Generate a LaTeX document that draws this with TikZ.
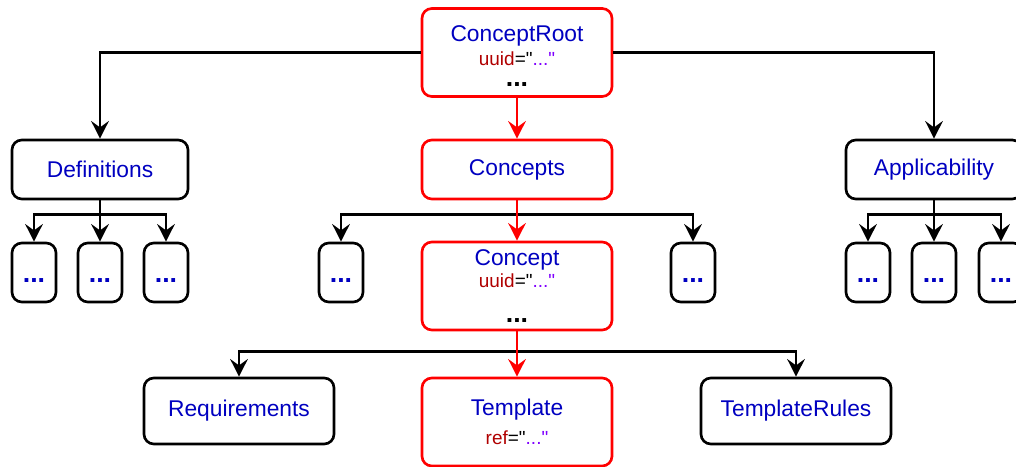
\documentclass[tikz,border=0pt]{standalone}
\usepackage{fontspec}
\newfontfamily\diagfont{Liberation Sans}
\usetikzlibrary{arrows.meta}
\definecolor{nameblue}{HTML}{0000C0}
\definecolor{keyred}{HTML}{B00000}
\definecolor{valpurple}{HTML}{7F00FF}
\definecolor{hotred}{HTML}{FF0000}
\newcommand{\bigfs}{\diagfont\fontsize{16.2}{19}\selectfont}
\newcommand{\smallfs}{\diagfont\fontsize{13.5}{16}\selectfont}
\newcommand{\attr}[1]{{\smallfs\color{keyred}#1\color{black}="\color{valpurple}..."}}
\newcommand{\more}{{\diagfont\fontsize{19}{20}\selectfont\textbf{...}}}
\newcommand{\lowmore}{\raisebox{-7pt}[0pt][0pt]{\more}}

\begin{document}
\begin{tikzpicture}[>={Stealth[length=12.5pt,width=12.5pt,inset=4.5pt]}]
  \tikzset{
    box/.style={draw,line width=1.9pt,rounded corners=7pt,align=center,text=nameblue,
      font=\bigfs,minimum width=4.75cm,minimum height=1.475cm,inner sep=0pt},
    hot/.style={box,draw=hotred,minimum height=2.2cm},
    dotbox/.style={box,minimum width=1.1cm},
    link/.style={->,line width=1.9pt},
    hotlink/.style={link,draw=hotred}
  }
  \useasboundingbox (0,0) rectangle (25.4,-11.675);

  % top level
  \node [hot] (root) at (12.925,-1.3125) {\rule{0pt}{16pt}ConceptRoot\\[-2pt]\attr{uuid}\\[-4pt]{\color{black}\more}};
  \node [box,minimum width=4.4cm] (defs) at (2.5,-4.2375) {Definitions};
  \node [box,draw=hotred] (concepts) at (12.925,-4.2375) {Concepts};
  \node [box,minimum width=4.4cm] (appl) at (23.35,-4.2375) {Applicability};

  % children of the second row
  \node [dotbox] (d1) at (0.85,-6.8125) {\lowmore};
  \node [dotbox] (d2) at (2.5,-6.8125) {\lowmore};
  \node [dotbox] (d3) at (4.15,-6.8125) {\lowmore};
  \node [dotbox] (c1) at (8.525,-6.8125) {\lowmore};
  \node [hot] (concept) at (12.925,-7.15) {Concept\\[-3pt]\attr{uuid}\\[6pt]{\color{black}\more}};
  \node [dotbox] (c2) at (17.325,-6.8125) {\lowmore};
  \node [dotbox] (a1) at (21.7,-6.8125) {\lowmore};
  \node [dotbox] (a2) at (23.35,-6.8125) {\lowmore};
  \node [dotbox] (a3) at (25.025,-6.8125) {\lowmore};

  % bottom row
  \node [box,minimum height=1.65cm] (req) at (5.975,-10.275) {Requirements};
  \node [hot] (tmpl) at (12.925,-10.55) {Template\\[2pt]\attr{ref}};
  \node [box,minimum height=1.65cm] (rules) at (19.9,-10.275) {TemplateRules};

  % bus points
  \coordinate (dbus) at ([yshift=-0.35cm]defs.south);
  \coordinate (cbus) at ([yshift=-0.35cm]concepts.south);
  \coordinate (abus) at ([yshift=-0.35cm]appl.south);
  \coordinate (kbus) at ([yshift=-0.5cm]concept.south);

  \draw [link] (root.west) -| (defs.north);
  \draw [link] (root.east) -| (appl.north);

  \draw [link] (defs.south) -- (dbus) -| (d1.north);
  \draw [link] (dbus) -- (d2.north);
  \draw [link] (dbus) -| (d3.north);
  \draw [link] (appl.south) -- (abus) -| (a1.north);
  \draw [link] (abus) -- (a2.north);
  \draw [link] (abus) -| (a3.north);
  \draw [link] (cbus) -| (c1.north);
  \draw [link] (cbus) -| (c2.north);
  \draw [link] (kbus) -| (req.north);
  \draw [link] (kbus) -| (rules.north);

  \draw [hotlink] (root.south) -- (concepts.north);
  \draw [hotlink] (concepts.south) -- (concept.north);
  \draw [hotlink] (concept.south) -- (tmpl.north);
\end{tikzpicture}
\end{document}
